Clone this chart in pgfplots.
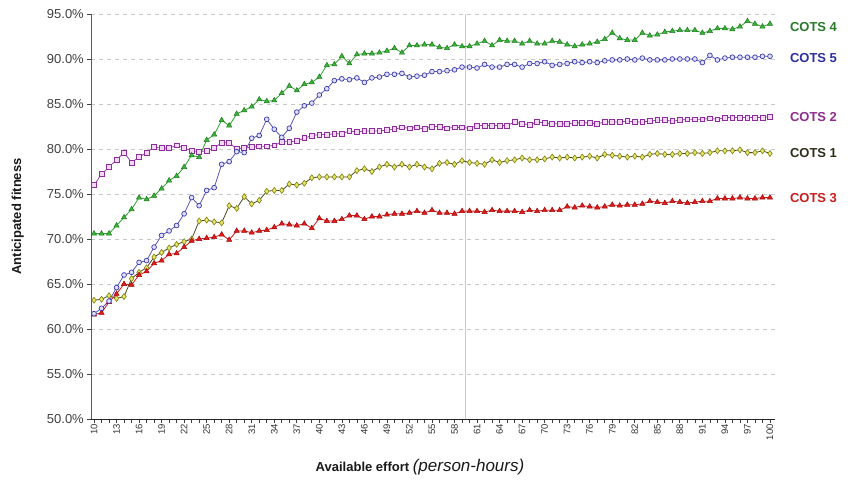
\documentclass[border=0pt]{standalone}
\usepackage{fontspec}
\setmainfont{Liberation Sans}
\usepackage{pgfplots}
\pgfplotsset{compat=1.18}
\usepackage{pgfplotstable}

\definecolor{c1line}{HTML}{4A4A20}
\definecolor{c1fill}{HTML}{E6E66A}
\definecolor{c1edge}{HTML}{7F7F10}
\definecolor{c1text}{HTML}{2E2E1A}
\definecolor{c2line}{HTML}{A040B0}
\definecolor{c2fill}{HTML}{F2D8F2}
\definecolor{c2edge}{HTML}{8E2E9E}
\definecolor{c2text}{HTML}{8E2E8E}
\definecolor{c3line}{HTML}{D01818}
\definecolor{c3fill}{HTML}{E01C1C}
\definecolor{c3edge}{HTML}{A00A0A}
\definecolor{c3text}{HTML}{C81E1E}
\definecolor{c4line}{HTML}{30A030}
\definecolor{c4fill}{HTML}{3CB43C}
\definecolor{c4edge}{HTML}{1C7A1C}
\definecolor{c4text}{HTML}{2A7A2A}
\definecolor{c5line}{HTML}{5A5AB4}
\definecolor{c5fill}{HTML}{E0E0FA}
\definecolor{c5edge}{HTML}{3838A8}
\definecolor{c5text}{HTML}{2E2EA0}

\pgfplotstableread{
x c1 c2 c3 c4 c5
10 63.2 76.0 61.6 70.6 61.7
11 63.3 77.2 61.8 70.6 62.3
12 63.7 78.0 63.0 70.6 63.1
13 63.4 78.8 63.9 71.5 64.6
14 63.6 79.6 65.0 72.4 66.0
15 65.6 78.5 64.9 73.3 66.3
16 66.3 79.1 66.0 74.6 67.4
17 66.8 79.6 66.4 74.4 67.6
18 68.0 80.2 67.3 74.8 69.1
19 68.5 80.1 67.6 75.6 70.4
20 69.0 80.1 68.3 76.5 70.9
21 69.4 80.4 68.4 77.0 71.5
22 69.7 80.1 69.1 78.0 72.8
23 70.0 79.8 69.8 79.3 74.6
24 72.0 79.7 70.0 79.1 73.7
25 72.1 79.8 70.1 81.0 75.4
26 71.9 80.1 70.2 81.6 75.7
27 71.8 80.7 70.5 83.2 78.3
28 73.7 80.7 69.9 82.6 78.6
29 73.4 80.0 70.9 83.9 79.7
30 74.7 80.1 70.9 84.3 79.6
31 73.9 80.2 70.7 84.7 81.2
32 74.3 80.3 70.9 85.5 81.5
33 75.3 80.3 71.0 85.3 83.3
34 75.4 80.4 71.3 85.4 82.2
35 75.4 80.8 71.7 86.2 81.3
36 76.1 80.8 71.6 87.0 82.3
37 76.0 80.9 71.5 86.5 84.1
38 76.2 81.2 71.7 87.2 84.8
39 76.8 81.5 71.2 87.4 85.1
40 76.9 81.6 72.3 88.0 86.0
41 76.9 81.6 72.0 89.3 86.7
42 76.9 81.7 72.0 89.4 87.6
43 76.9 81.7 72.2 90.3 87.8
44 76.9 82.0 72.6 89.5 87.7
45 77.6 81.9 72.6 90.5 87.9
46 77.8 82.0 72.2 90.6 87.4
47 77.5 82.0 72.5 90.6 87.9
48 78.0 82.0 72.5 90.7 88.0
49 78.3 82.1 72.7 90.9 88.3
50 78.0 82.2 72.8 91.2 88.3
51 78.3 82.4 72.8 90.7 88.4
52 78.0 82.3 72.9 91.5 88.0
53 78.3 82.4 73.1 91.5 88.1
54 78.0 82.2 72.9 91.6 88.2
55 77.8 82.5 73.2 91.6 88.6
56 78.4 82.5 72.9 91.3 88.6
57 78.5 82.3 72.9 91.2 88.7
58 78.3 82.4 72.8 91.6 88.8
59 78.7 82.4 73.1 91.4 89.1
60 78.5 82.3 73.1 91.4 89.1
61 78.4 82.6 73.1 91.7 89.0
62 78.3 82.6 73.0 92.0 89.4
63 78.8 82.6 73.2 91.5 89.1
64 78.5 82.6 73.1 92.1 89.1
65 78.7 82.6 73.1 92.0 89.4
66 78.8 83.0 73.1 92.0 89.4
67 79.0 82.8 73.0 91.7 89.1
68 78.8 82.7 73.2 92.0 89.5
69 78.8 83.0 73.1 91.7 89.5
70 78.9 82.9 73.2 91.7 89.7
71 79.1 82.8 73.2 92.0 89.3
72 79.0 82.8 73.2 91.9 89.4
73 79.1 82.8 73.6 91.6 89.5
74 79.0 82.9 73.5 91.4 89.7
75 79.1 82.9 73.7 91.6 89.6
76 79.2 82.9 73.6 91.7 89.7
77 79.0 82.8 73.5 91.9 89.6
78 79.4 83.0 73.6 92.2 89.8
79 79.3 83.0 73.8 92.9 89.9
80 79.2 83.0 73.7 92.3 89.9
81 79.1 83.1 73.8 92.1 90.0
82 79.2 83.0 73.8 92.1 89.9
83 79.1 83.0 73.9 92.9 90.1
84 79.4 83.1 74.2 92.6 89.9
85 79.5 83.2 74.1 92.7 89.9
86 79.4 83.2 74.0 93.0 89.9
87 79.4 83.1 74.2 93.1 90.0
88 79.5 83.2 74.1 93.2 90.0
89 79.5 83.3 74.0 93.2 90.0
90 79.6 83.3 74.1 93.2 90.0
91 79.5 83.3 74.2 92.9 89.6
92 79.6 83.4 74.2 93.1 90.4
93 79.8 83.3 74.5 93.4 89.9
94 79.8 83.5 74.5 93.4 90.1
95 79.8 83.5 74.5 93.3 90.2
96 79.9 83.5 74.6 93.6 90.2
97 79.6 83.5 74.5 94.2 90.2
98 79.6 83.5 74.5 93.9 90.2
99 79.8 83.5 74.6 93.6 90.3
100 79.5 83.6 74.6 93.9 90.3
}\data

\begin{document}
\begin{tikzpicture}[x=1pt,y=1pt]
\path[use as bounding box] (-91,-63) rectangle (757,419);
\begin{axis}[
  scale only axis, width=684pt, height=405pt,
  xmin=9.6, xmax=100.67, ymin=50, ymax=95,
  axis x line*=bottom, axis y line*=left,
  axis line style={-},
  x axis line style={draw=black!85, line width=0.9pt},
  y axis line style={draw=black!65, line width=0.9pt},
  xtick={10,13,...,100}, minor xtick={10,...,100},
  tick align=outside, major tick length=4pt, minor tick length=4pt,
  every tick/.style={draw=black!75, line width=0.7pt},
  xticklabel style={rotate=90, anchor=east, font=\fontsize{9.5}{10}\selectfont, text=black!80, inner sep=1pt},
  ytick={50,55,...,95},
  /pgf/number format/assume math mode=true,
  yticklabel={\pgfmathprintnumber[fixed,fixed zerofill,precision=1]{\tick}\%},
  yticklabel style={font=\fontsize{13}{14}\selectfont, text=black!75, inner sep=3pt},
  ymajorgrids,
  major grid style={draw=black!22, dash pattern=on 4pt off 4pt, line width=0.9pt},
  extra x ticks={59.5}, extra x tick labels={},
  extra x tick style={grid=major, major grid style={draw=black!20, solid, line width=0.7pt}, major tick length=0pt},
  clip=false,
]
\addplot[color=c2line, line width=0.8pt, mark=square*, mark size=2.4pt,
  mark options={fill=c2fill, draw=c2edge, line width=0.7pt, solid}] table[x=x,y=c2]{\data};
\addplot[color=c1line, line width=0.8pt, mark=diamond*, mark size=3pt,
  mark options={fill=c1fill, draw=c1edge, line width=0.6pt, solid}] table[x=x,y=c1]{\data};
\addplot[color=c3line, line width=0.8pt, mark=triangle*, mark size=3pt,
  mark options={fill=c3fill, draw=c3edge, line width=0.5pt, solid}] table[x=x,y=c3]{\data};
\addplot[color=c5line, line width=0.8pt, mark=*, mark size=2.4pt,
  mark options={fill=c5fill, draw=c5edge, line width=0.7pt, solid}] table[x=x,y=c5]{\data};
\addplot[color=c4line, line width=0.8pt, mark=triangle*, mark size=3pt,
  mark options={fill=c4fill, draw=c4edge, line width=0.5pt, solid}] table[x=x,y=c4]{\data};

\node[anchor=west, font=\bfseries\fontsize{13}{14}\selectfont, text=c4text] at (axis cs:102.2,93.6) {COTS 4};
\node[anchor=west, font=\bfseries\fontsize{13}{14}\selectfont, text=c5text] at (axis cs:102.2,90.1) {COTS 5};
\node[anchor=west, font=\bfseries\fontsize{13}{14}\selectfont, text=c2text] at (axis cs:102.2,83.6) {COTS 2};
\node[anchor=west, font=\bfseries\fontsize{13}{14}\selectfont, text=c1text] at (axis cs:102.2,79.6) {COTS 1};
\node[anchor=west, font=\bfseries\fontsize{13}{14}\selectfont, text=c3text] at (axis cs:102.2,74.5) {COTS 3};

\node[rotate=90, font=\bfseries\fontsize{13}{14}\selectfont, text=black!90] at (axis description cs:-0.107,0.5) {Anticipated fitness};
\node[font=\fontsize{13}{14}\selectfont, text=black!90] at (axis description cs:0.481,-0.118) {\textbf{Available effort} {\fontsize{17}{18}\selectfont\itshape (person-hours)}};
\end{axis}
\end{tikzpicture}
\end{document}
